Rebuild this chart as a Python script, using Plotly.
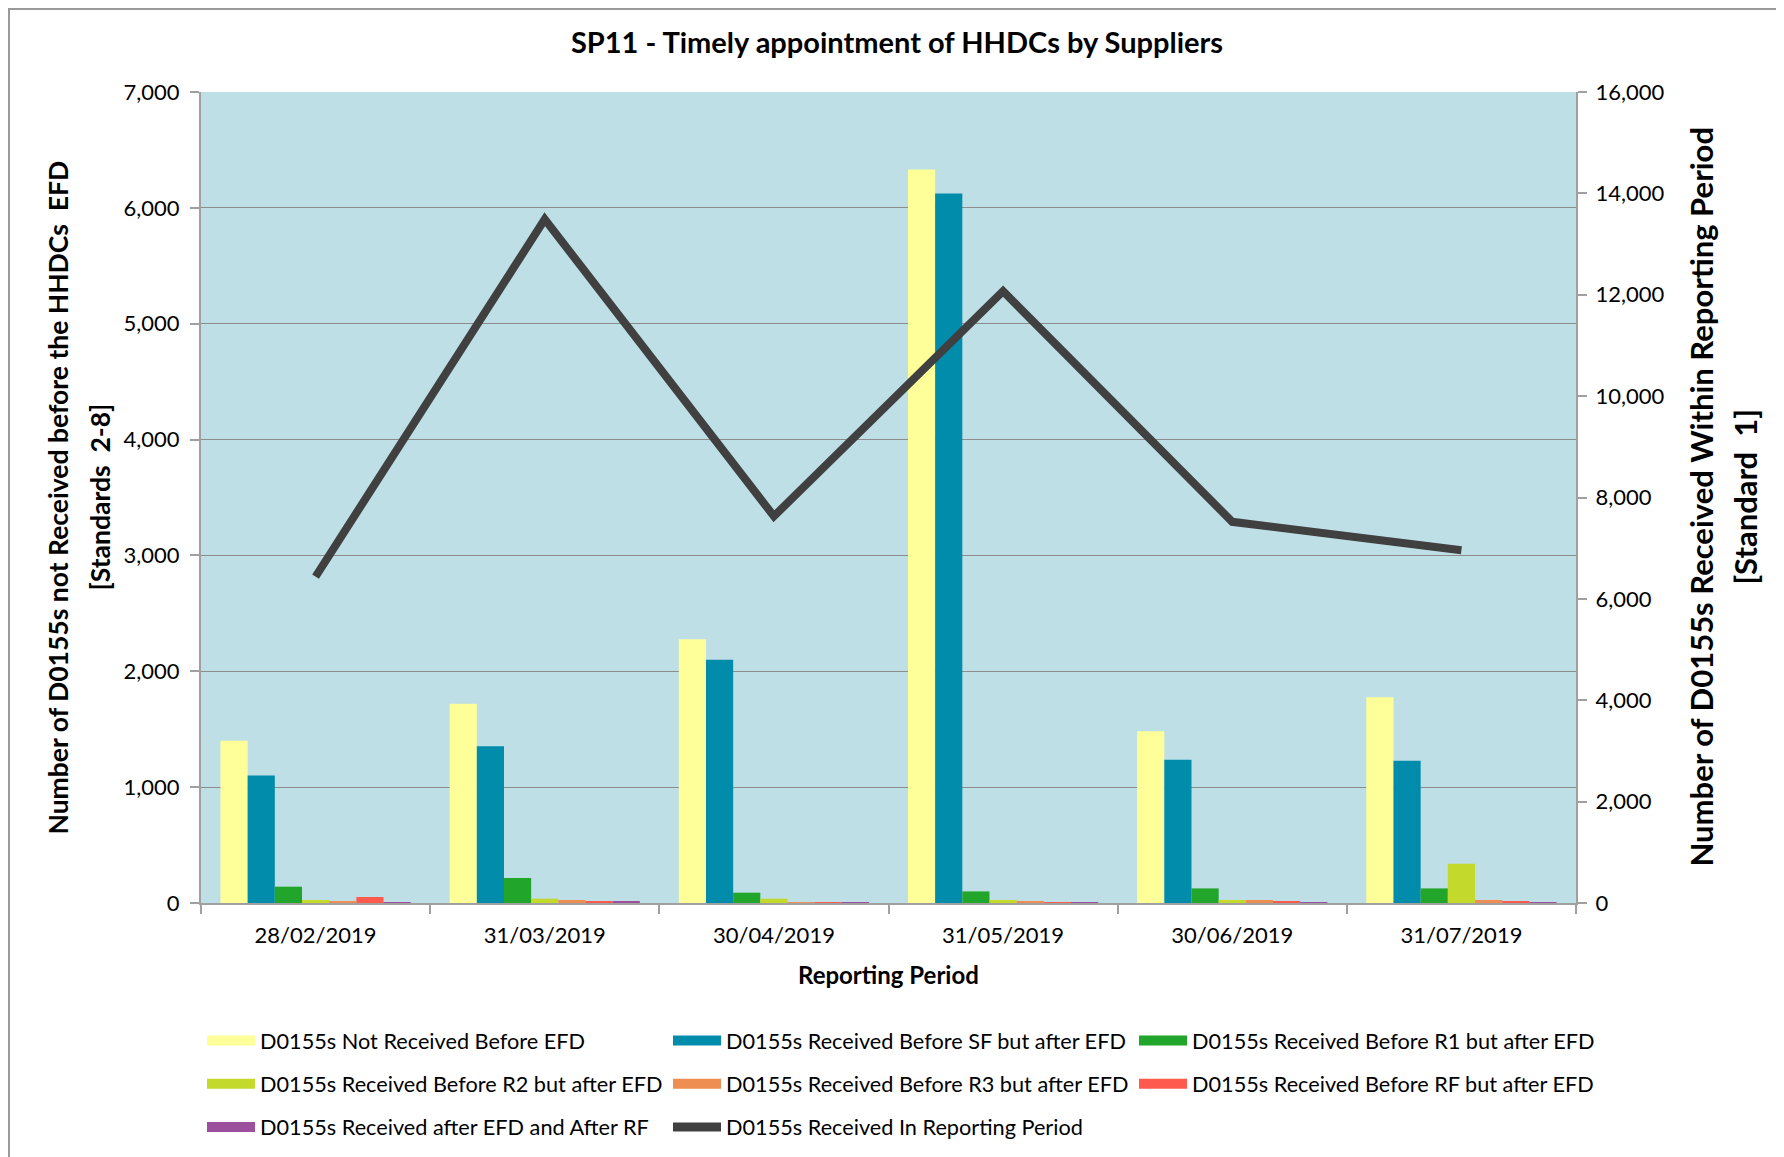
import plotly.graph_objects as go

periods = ["28/02/2019", "31/03/2019", "30/04/2019", "31/05/2019", "30/06/2019", "31/07/2019"]

not_received_before_efd = [1400, 1720, 2277, 6330, 1482, 1776]
before_sf_after_efd = [1100, 1354, 2100, 6124, 1236, 1227]
before_r1_after_efd = [141, 216, 89, 100, 126, 126]
before_r2_after_efd = [26, 37, 37, 26, 26, 339]
before_r3_after_efd = [11, 26, 3, 14, 26, 26]
before_rf_after_efd = [52, 14, 3, 3, 14, 14]
after_efd_after_rf = [3, 14, 3, 3, 3, 3]
received_in_period = [6440, 13490, 7630, 12070, 7520, 6960]

bar_names = [
    "D0155s Not Received Before EFD",
    "D0155s Received Before SF but after EFD",
    "D0155s Received Before R1 but after EFD",
    "D0155s Received Before R2 but after EFD",
    "D0155s Received Before R3 but after EFD",
    "D0155s Received Before RF but after EFD",
    "D0155s Received after EFD and After RF",
]
bar_values = [not_received_before_efd, before_sf_after_efd, before_r1_after_efd, before_r2_after_efd,
              before_r3_after_efd, before_rf_after_efd, after_efd_after_rf]
bar_colors = ["#FFFF99", "#008CAA", "#22A52B", "#C3D92C", "#EE8E52", "#FF5A4E", "#9B4F9D"]
line_name = "D0155s Received In Reporting Period"
line_color = "#404040"

FONT = "Lato, Carlito, 'Open Sans', sans-serif"

# page body has an 8px margin -> shift everything
OFF = 8
W, H = 1784, 1157
L, R, T, B = 201 - OFF, 1576 - OFF, 92 - OFF, 903 - OFF
pw, ph = R - L, B - T

def px_x(p):  # reference pixel -> paper x
    return (p - OFF - L) / pw

def px_y(p):  # reference pixel -> paper y
    return (B - (p - OFF)) / ph

legend_cols = ["legend", "legend2", "legend3", "legend", "legend2", "legend3", "legend"]

fig = go.Figure()
for name, vals, col in zip(bar_names, bar_values, bar_colors):
    fig.add_trace(go.Bar(x=periods, y=vals, name=name, marker=dict(color=col, line=dict(width=0)),
                         yaxis="y", showlegend=False))

fig.add_trace(go.Scatter(x=periods, y=received_in_period, name=line_name, mode="lines",
                         line=dict(color=line_color, width=8), yaxis="y2", showlegend=False))

# legend entries (wide rectangular swatches like the reference)
for i, (name, col) in enumerate(zip(bar_names, bar_colors)):
    fig.add_trace(go.Scatter(x=[None], y=[None], name=name, mode="lines",
                             line=dict(color=col, width=14), legend=legend_cols[i],
                             legendgroup=name, showlegend=True, hoverinfo="skip"))
fig.add_trace(go.Scatter(x=[None], y=[None], name=line_name, mode="lines",
                         line=dict(color=line_color, width=9), legend="legend2",
                         legendgroup=line_name, showlegend=True, hoverinfo="skip", yaxis="y2"))

fig.add_shape(type="rect", xref="paper", yref="paper",
              x0=px_x(9), x1=px_x(1810), y0=px_y(9), y1=px_y(1200),
              line=dict(color="#9A9A9A", width=2), fillcolor="rgba(0,0,0,0)", layer="below")

leg_common = dict(orientation="v", xanchor="left", yanchor="top", tracegroupgap=12,
                  font=dict(size=21.7, family=FONT, color="black"), bgcolor="rgba(0,0,0,0)",
                  itemwidth=48, traceorder="grouped")
leg_y = px_y(1020)

ann = [
    dict(text="<b>Number of D0155s not Received before the HHDCs  EFD</b>", x=px_x(57), size=26.5),
    dict(text="<b>[Standards  2-8]</b>", x=px_x(99), size=26.5),
    dict(text="<b>Number of D0155s Received Within Reporting Period</b>", x=px_x(1700), size=31),
    dict(text="<b>[Standard  1]</b>", x=px_x(1744), size=31),
]
annotations = []
for a in ann:
    annotations.append(dict(text=a["text"], x=a["x"], y=0.5, xref="paper", yref="paper",
                            xanchor="center", yanchor="middle", textangle=-90, showarrow=False,
                            font=dict(family=FONT, color="black", size=a["size"])))
annotations.append(dict(text="<b>Reporting Period</b>", x=px_x(888), y=px_y(974), xref="paper", yref="paper",
                        xanchor="center", yanchor="middle", showarrow=False,
                        font=dict(family=FONT, color="black", size=24)))

fig.update_layout(
    width=W, height=H,
    margin=dict(l=L, r=W - R, t=T, b=H - B, autoexpand=False),
    paper_bgcolor="white",
    plot_bgcolor="#BEDFE6",
    font=dict(family=FONT, color="black", size=22),
    title=dict(text="<b>SP11 - Timely appointment of HHDCs by Suppliers</b>",
               x=(897 - OFF) / W, xanchor="center", y=1 - (43 - OFF) / H, yanchor="middle",
               font=dict(size=29, family=FONT, color="black")),
    barmode="group", bargap=0.17, bargroupgap=0,
    showlegend=True,
    legend=dict(x=px_x(202), y=leg_y, **leg_common),
    legend2=dict(x=px_x(668), y=leg_y, **leg_common),
    legend3=dict(x=px_x(1134), y=leg_y, **leg_common),
    annotations=annotations,
    xaxis=dict(type="category", tickson="boundaries", ticks="outside", ticklen=9, tickcolor="#A0A0A0",
               tickwidth=2, showline=True, linecolor="#A0A0A0", linewidth=2, showgrid=False,
               tickfont=dict(size=22), ticklabelstandoff=12),
    yaxis=dict(range=[0, 7000], dtick=1000, tickformat=",", ticks="outside", ticklen=9, tickcolor="#A0A0A0",
               tickwidth=2, showline=True, linecolor="#A0A0A0", linewidth=2, showgrid=True,
               gridcolor="#8C8C8C", gridwidth=1, zeroline=False, tickfont=dict(size=22), ticklabelstandoff=6),
    yaxis2=dict(range=[0, 16000], dtick=2000, tickformat=",", overlaying="y", side="right",
                ticks="outside", ticklen=9, tickcolor="#A0A0A0", tickwidth=2, showline=True, linecolor="#A0A0A0",
                linewidth=2, showgrid=False, zeroline=False, tickfont=dict(size=22), ticklabelstandoff=4),
)

fig.write_html("out.html")
